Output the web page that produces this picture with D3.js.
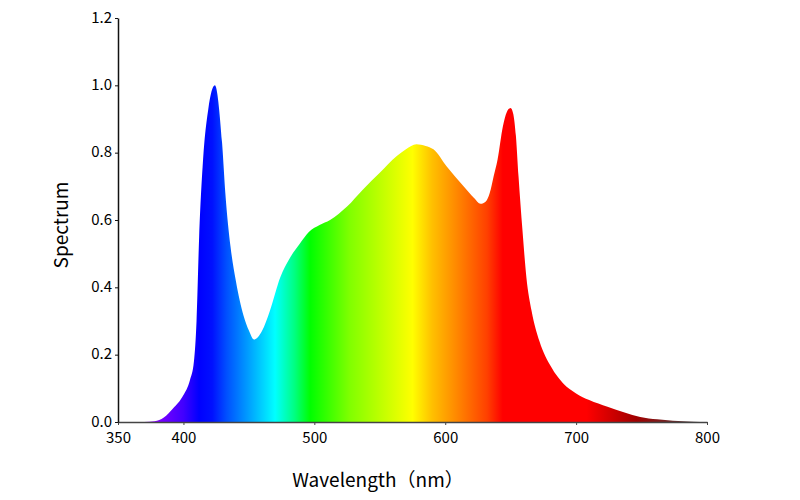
<!DOCTYPE html>
<html>
<head>
<meta charset="utf-8">
<script src="https://cdn.jsdelivr.net/npm/d3@7"></script>
<style>
  body { margin: 0; background: #fff; }
  svg text { font-family: "Noto Sans CJK SC", "Noto Sans", sans-serif; fill: #000; }
</style>
</head>
<body>
<div id="chart"></div>
<script>
// wavelength (nm) and relative spectrum
var wavelength = [350, 370, 378, 385, 392, 400, 405, 408, 410, 412, 415, 419, 424, 429.5, 432, 436, 440, 446, 450, 454,
  460, 466, 474, 481, 489, 496, 504, 512, 525, 537, 550, 563, 570, 578, 585, 591, 601, 614, 622, 627,
  631, 634, 637, 640, 644, 647, 650, 652, 654, 656, 659, 662, 666, 672, 681, 690, 700, 710, 724, 737,
  749, 762, 774, 790, 800];
var spectrum = [0, 0, 0.002, 0.013, 0.04, 0.08, 0.125, 0.18, 0.3, 0.55, 0.78, 0.93, 1.0, 0.83, 0.68, 0.52, 0.42, 0.315, 0.272, 0.245,
  0.27, 0.33, 0.43, 0.485, 0.53, 0.565, 0.585, 0.60, 0.64, 0.69, 0.74, 0.79, 0.81, 0.825, 0.82, 0.81, 0.76, 0.70, 0.665, 0.648,
  0.655, 0.68, 0.73, 0.78, 0.877, 0.92, 0.933, 0.915, 0.85, 0.73, 0.57, 0.43, 0.33, 0.24, 0.163, 0.115, 0.085, 0.065, 0.045, 0.028,
  0.015, 0.008, 0.004, 0.001, 0];

var xTicks = [350, 400, 500, 600, 700, 800];
var yTicks = [0, 0.2, 0.4, 0.6, 0.8, 1.0, 1.2];

// colour of the fill along the wavelength
var stopNm = [378, 385, 400, 412, 422, 433, 450, 470, 485, 497, 527, 575, 590, 606, 632, 644, 708, 746, 779, 800];
var stopColor = ["#8a00ff", "#7000ff", "#4000ff", "#0000ff", "#0010ff", "#0050ff", "#00a0ff", "#00ffff", "#00ff80",
  "#00ff00", "#80ff00", "#ffff00", "#ffc000", "#ff9000", "#ff4000", "#ff0000", "#ff0000", "#a00000", "#603030", "#505050"];

var width = 800, height = 500;
var margin = {top: 18, right: 93, bottom: 78, left: 118};

var svg = d3.select("#chart").append("svg")
  .attr("width", width)
  .attr("height", height);

var x = d3.scaleLinear().domain([350, 800]).range([margin.left, width - margin.right]);
var y = d3.scaleLinear().domain([0, 1.2]).range([height - margin.bottom, margin.top]);

var grad = svg.append("defs").append("linearGradient")
  .attr("id", "rainbow")
  .attr("gradientUnits", "userSpaceOnUse")
  .attr("x1", x(350)).attr("x2", x(800))
  .attr("y1", 0).attr("y2", 0);

grad.selectAll("stop").data(stopNm).enter().append("stop")
  .attr("offset", function(d) { return (x(d) - x(350)) / (x(800) - x(350)); })
  .attr("stop-color", function(d, i) { return stopColor[i]; });

var points = wavelength.map(function(w, i) { return [w, spectrum[i]]; });

var area = d3.area()
  .x(function(d) { return x(d[0]); })
  .y0(y(0))
  .y1(function(d) { return y(d[1]); })
  .curve(d3.curveMonotoneX);

svg.append("path")
  .datum(points)
  .attr("d", area)
  .attr("fill", "url(#rainbow)");

// axes
var xAxis = svg.append("g")
  .attr("transform", "translate(0," + y(0) + ")")
  .call(d3.axisBottom(x).tickValues(xTicks).tickSize(3).tickSizeOuter(0).tickFormat(d3.format("d")));
xAxis.select(".domain").attr("stroke", "#444").attr("stroke-width", 1.5);
xAxis.selectAll(".tick line").attr("stroke", "#444");
xAxis.selectAll(".tick text").attr("font-size", 15).attr("dy", "1em");

var yAxis = svg.append("g")
  .attr("transform", "translate(" + x(350) + ",0)")
  .call(d3.axisLeft(y).tickValues(yTicks).tickSize(3).tickSizeOuter(0).tickFormat(d3.format(".1f")));
yAxis.select(".domain").attr("stroke", "#111").attr("stroke-width", 1.5);
yAxis.selectAll(".tick line").attr("stroke", "#111");
yAxis.selectAll(".tick text").attr("font-size", 15).attr("dy", "0.28em");

// titles
svg.append("text")
  .attr("x", 378).attr("y", 487)
  .attr("text-anchor", "middle")
  .attr("font-size", 19)
  .text("Wavelength（nm）");

svg.append("text")
  .attr("transform", "translate(68,225) rotate(-90)")
  .attr("text-anchor", "middle")
  .attr("font-size", 19)
  .text("Spectrum");
</script>
</body>
</html>
